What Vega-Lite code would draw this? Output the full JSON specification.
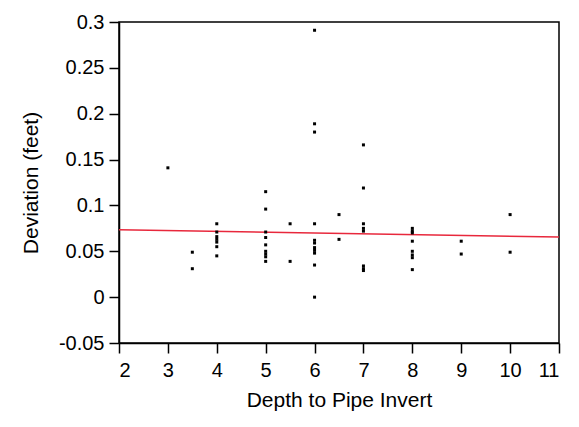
{
  "$schema": "https://vega.github.io/schema/vega-lite/v6.json",
  "width": 440,
  "height": 321,
  "autosize": {"type": "none"},
  "padding": {"left": 119, "top": 22, "right": 20, "bottom": 84},
  "background": "white",
  "config": {
    "view": {"stroke": "black", "strokeWidth": 1.5}
  },
  "datasets": {
    "pts": [
      {"depth": 3, "dev": 0.141},
      {"depth": 3.5, "dev": 0.049},
      {"depth": 3.5, "dev": 0.031},
      {"depth": 4, "dev": 0.080},
      {"depth": 4, "dev": 0.071},
      {"depth": 4, "dev": 0.066},
      {"depth": 4, "dev": 0.063},
      {"depth": 4, "dev": 0.060},
      {"depth": 4, "dev": 0.055},
      {"depth": 4, "dev": 0.045},
      {"depth": 5, "dev": 0.115},
      {"depth": 5, "dev": 0.096},
      {"depth": 5, "dev": 0.071},
      {"depth": 5, "dev": 0.065},
      {"depth": 5, "dev": 0.057},
      {"depth": 5, "dev": 0.050},
      {"depth": 5, "dev": 0.047},
      {"depth": 5, "dev": 0.044},
      {"depth": 5, "dev": 0.039},
      {"depth": 5.5, "dev": 0.080},
      {"depth": 5.5, "dev": 0.039},
      {"depth": 6, "dev": 0.291},
      {"depth": 6, "dev": 0.189},
      {"depth": 6, "dev": 0.180},
      {"depth": 6, "dev": 0.080},
      {"depth": 6, "dev": 0.062},
      {"depth": 6, "dev": 0.059},
      {"depth": 6, "dev": 0.054},
      {"depth": 6, "dev": 0.051},
      {"depth": 6, "dev": 0.048},
      {"depth": 6, "dev": 0.035},
      {"depth": 6, "dev": 0.0},
      {"depth": 6.5, "dev": 0.090},
      {"depth": 6.5, "dev": 0.063},
      {"depth": 7, "dev": 0.166},
      {"depth": 7, "dev": 0.119},
      {"depth": 7, "dev": 0.080},
      {"depth": 7, "dev": 0.075},
      {"depth": 7, "dev": 0.072},
      {"depth": 7, "dev": 0.034},
      {"depth": 7, "dev": 0.031},
      {"depth": 7, "dev": 0.029},
      {"depth": 8, "dev": 0.075},
      {"depth": 8, "dev": 0.072},
      {"depth": 8, "dev": 0.070},
      {"depth": 8, "dev": 0.061},
      {"depth": 8, "dev": 0.050},
      {"depth": 8, "dev": 0.046},
      {"depth": 8, "dev": 0.043},
      {"depth": 8, "dev": 0.030},
      {"depth": 9, "dev": 0.061},
      {"depth": 9, "dev": 0.047},
      {"depth": 10, "dev": 0.090},
      {"depth": 10, "dev": 0.049}
    ],
    "fit": [
      {"depth": 2, "dev": 0.0736},
      {"depth": 11, "dev": 0.0656}
    ]
  },
  "layer": [
    {
      "data": {"name": "fit"},
      "mark": {"type": "line", "color": "#e8283c", "strokeWidth": 1.5},
      "encoding": {
        "x": {"field": "depth", "type": "quantitative"},
        "y": {"field": "dev", "type": "quantitative"}
      }
    },
    {
      "data": {"name": "pts"},
      "mark": {"type": "square", "size": 9, "color": "black", "opacity": 1, "filled": true},
      "encoding": {
        "x": {
          "field": "depth",
          "type": "quantitative",
          "scale": {"domain": [2, 11], "nice": false, "zero": false},
          "axis": {
            "title": "Depth to Pipe Invert",
            "values": [2, 3, 4, 5, 6, 7, 8, 9, 10, 11],
            "format": "d",
            "grid": false,
            "domainColor": "black",
            "domainWidth": 1.5,
            "tickColor": "black",
            "tickWidth": 1.5,
            "tickSize": 10,
            "labelColor": "black",
            "labelFont": "Liberation Sans",
            "labelFontSize": 20,
            "titleFont": "Liberation Sans",
            "titleFontSize": 21,
            "titleFontWeight": "normal",
            "titleColor": "black",
            "labelPadding": 7,
            "titlePadding": 9
          }
        },
        "y": {
          "field": "dev",
          "type": "quantitative",
          "scale": {"domain": [-0.05, 0.3], "nice": false, "zero": false},
          "axis": {
            "title": "Deviation (feet)",
            "values": [-0.05, 0, 0.05, 0.1, 0.15, 0.2, 0.25, 0.3],
            "labelExpr": "replace(format(datum.value, '~g'), '\u2212', '-')",
            "grid": false,
            "domainColor": "black",
            "domainWidth": 1.5,
            "tickColor": "black",
            "tickWidth": 1.5,
            "tickSize": 10,
            "labelColor": "black",
            "labelFont": "Liberation Sans",
            "labelFontSize": 20,
            "titleFont": "Liberation Sans",
            "titleFontSize": 21,
            "titleFontWeight": "normal",
            "titleColor": "black",
            "labelPadding": 5,
            "titlePadding": 17
          }
        }
      }
    }
  ]
}
